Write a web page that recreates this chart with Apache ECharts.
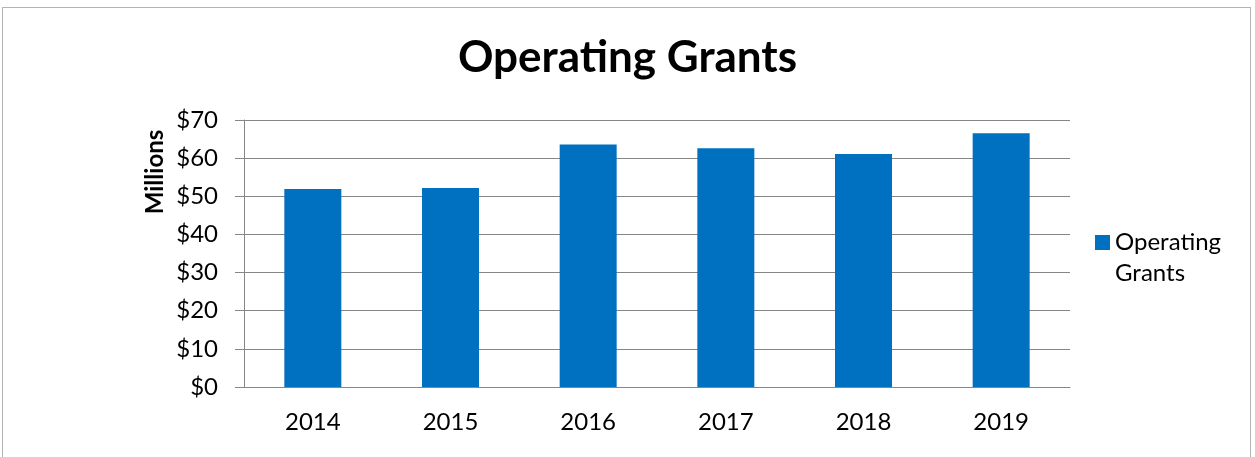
<!DOCTYPE html>
<html>
<head>
<meta charset="utf-8">
<script src="https://cdn.jsdelivr.net/npm/echarts@6/dist/echarts.min.js"></script>
<style>
  html, body { margin: 0; padding: 0; background: #fff; }
  #frame {
    position: absolute; left: 2px; top: 7px; width: 1249px; height: 460px;
    border: 1px solid #b4b4b4; box-sizing: border-box;
  }
  #chart { position: absolute; left: 0; top: 0; width: 1255px; height: 457px; }
</style>
</head>
<body>
<div id="frame"></div>
<div id="chart"></div>
<script>
// Operating grants by year, in millions of dollars
const years = ['2014', '2015', '2016', '2017', '2018', '2019']
const grants = [51.9, 52.2, 63.6, 62.6, 61.1, 66.5]
const seriesName = 'Operating Grants'
const titleText = 'Operating Grants'
const yAxisLabel = 'Millions'

const FONT = 'Lato, "Open Sans", sans-serif'
const AXIS = '#868686'
const BAR = '#0070c0'

const chart = echarts.init(document.getElementById('chart'))

chart.setOption({
  animation: false,
  backgroundColor: 'transparent',
  textStyle: { fontFamily: FONT, color: '#000' },
  title: {
    text: titleText,
    left: 'center',
    top: 31,
    textStyle: { fontFamily: FONT, fontSize: 44, fontWeight: 'bold', color: '#000' },
  },
  grid: { left: 244, right: 185, top: 120, bottom: 70 },
  legend: {
    left: 1095, top: 196, padding: 0,
    itemWidth: 15, itemHeight: 15, itemGap: 0,
    icon: 'rect',
    data: [seriesName],
    // blank first line so the icon lines up with "Operating"
    formatter: () => ' \nOperating\nGrants',
    textStyle: { fontFamily: FONT, fontSize: 24, color: '#000', lineHeight: 31 },
  },
  graphic: [{
    type: 'text',
    x: 155, y: 172, rotation: Math.PI / 2,
    style: { text: yAxisLabel, font: 'bold 24px ' + FONT, fill: '#000', align: 'center', verticalAlign: 'middle' },
  }],
  xAxis: {
    type: 'category',
    data: years,
    axisLine: { lineStyle: { color: AXIS, width: 1 } },
    axisTick: { length: 7, lineStyle: { color: AXIS } },
    axisLabel: { color: '#000', fontSize: 24, margin: 23, fontFamily: FONT },
  },
  yAxis: {
    type: 'value',
    min: 0, max: 70, interval: 10,
    axisLine: { show: true, lineStyle: { color: AXIS } },
    axisTick: { show: true, length: 9, lineStyle: { color: AXIS } },
    axisLabel: { color: '#000', fontSize: 24, margin: 26, fontFamily: FONT, formatter: (v) => '$' + v },
    splitLine: { lineStyle: { color: AXIS, width: 1 } },
  },
  series: [{
    name: seriesName,
    type: 'bar',
    data: grants,
    barWidth: 57,
    itemStyle: { color: BAR },
  }],
})
</script>
</body>
</html>
